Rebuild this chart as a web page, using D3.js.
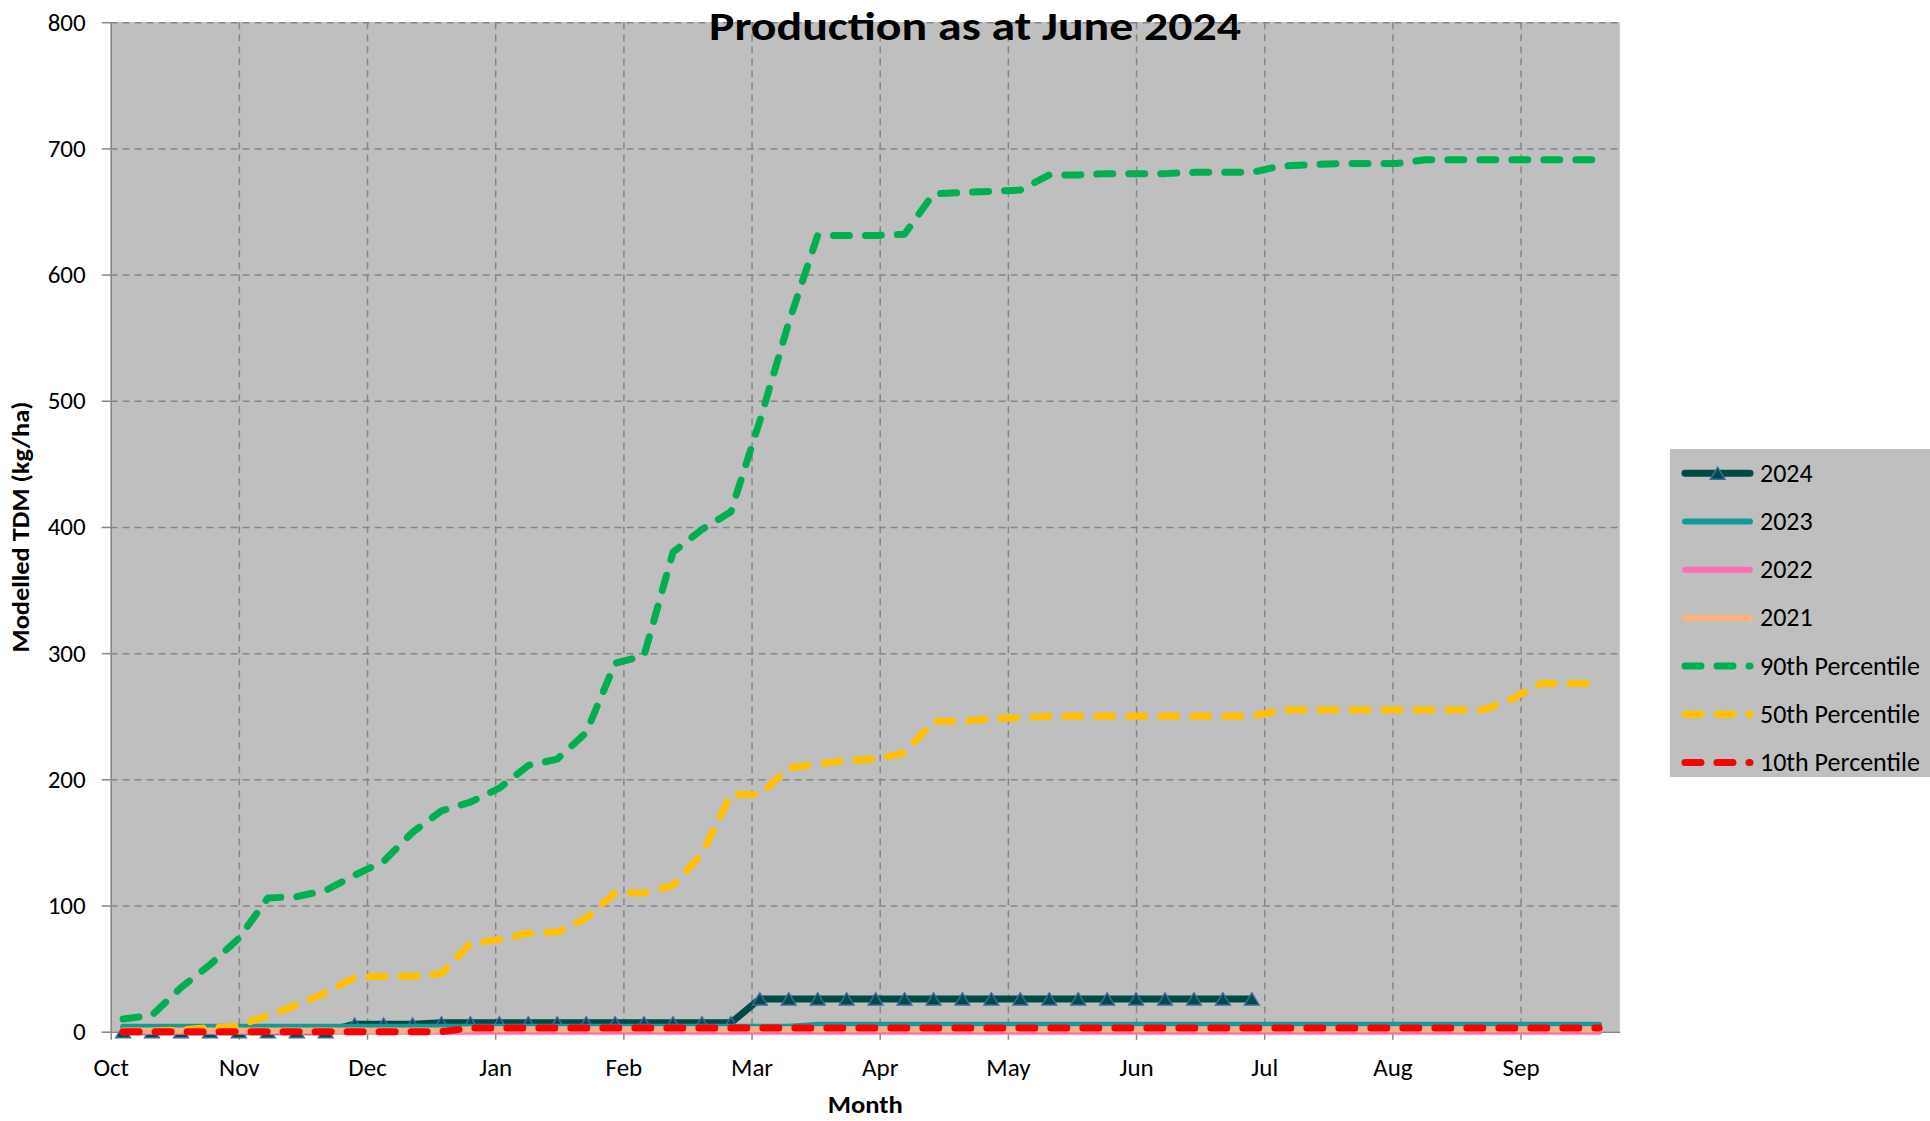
<!DOCTYPE html>
<html>
<head>
<meta charset="utf-8">
<script src="https://cdn.jsdelivr.net/npm/d3@7"></script>
<style>
  body { margin: 0; background: #fff; }
  svg { display: block; font-family: 'Carlito', 'Open Sans', sans-serif; }
</style>
</head>
<body>
<div class="vis-production"></div>
<script>
// month labels on the x axis (one gridline every 31 days from 1 Oct)
const monthLabels = ['Oct', 'Nov', 'Dec', 'Jan', 'Feb', 'Mar', 'Apr', 'May', 'Jun', 'Jul', 'Aug', 'Sep'];
const yTicks = [0, 100, 200, 300, 400, 500, 600, 700, 800];

// weekly modelled TDM (kg/ha), 52 weeks from early October
const p90 = [10, 13, 35, 53, 74, 106, 107, 112, 124, 135, 158, 175, 182, 193, 211, 216, 237, 292, 298, 380,
  398, 412, 484, 562, 631, 631, 631, 632, 664, 665, 666, 667, 679, 679, 680, 680, 680, 681, 681, 681,
  686, 687, 688, 688, 688, 691, 691, 691, 691, 691, 691, 691];
const p50 = [0, 0.5, 1.5, 3, 4.5, 13, 21, 31, 43, 44, 44, 46, 70, 73, 78, 79, 90, 110, 110, 116,
  141, 188, 188, 209, 212, 215, 216, 221, 246, 246, 248, 249, 250, 250, 250, 250, 250, 250, 250, 250,
  255, 255, 255, 255, 255, 255, 255, 255, 264, 276, 276, 276];
const p10 = [0, 0, 0, 0, 0, 0, 0, 0, 0, 0, 0, 0, 3, 3, 3, 3, 3, 3, 3, 3,
  3, 3, 3, 3, 3, 3, 3, 3, 3, 3, 3, 3, 3, 3, 3, 3, 3, 3, 3, 3,
  3, 3, 3, 3, 3, 3, 3, 3, 3, 3, 3, 3];
const y2024 = [0, 0, 0, 0, 0, 0, 0, 0, 6, 6, 6, 7, 7, 7, 7, 7, 7, 7, 7, 7,
  7, 7, 26, 26, 26, 26, 26, 26, 26, 26, 26, 26, 26, 26, 26, 26, 26, 26, 26, 26];
const y2023 = [4, 4, 4, 4, 4, 4, 4, 4, 4, 4, 4, 4, 4, 4, 4, 4, 4, 4, 4, 4,
  4, 4, 4, 4, 5.5, 5.5, 5.5, 5.5, 5.5, 5.5, 5.5, 5.5, 5.5, 5.5, 5.5, 5.5, 5.5, 5.5, 5.5, 5.5,
  5.5, 5.5, 5.5, 5.5, 5.5, 5.5, 5.5, 5.5, 5.5, 5.5, 5.5, 5.5];
const y2022 = [0, 0, 0, 0, 0, 0, 0, 0, 0, 0, 0, 0, 0, 0, 0, 0, 0, 0, 0, 0,
  0, 0, 0, 0, 0, 0, 0, 0, 0, 0, 0, 0, 0, 0, 0, 0, 0, 0, 0, 0,
  0, 0, 0, 0, 0, 0, 0, 0, 0, 0, 0, 0];
const y2021 = [1, 1, 1, 1, 1, 1, 1, 1, 1, 1, 1, 1, 2, 2, 2, 2, 2, 2, 2, 2,
  2, 2, 2, 2, 2, 2, 2, 2, 2, 2, 2, 2, 2, 2, 2, 2, 2, 2, 2, 2,
  2, 2, 2, 2, 2, 2, 2, 2, 2, 2, 2, 2];

const series = [
  { name: '2024', values: y2024, color: '#004a46', width: 7, marker: true },
  { name: '2023', values: y2023, color: '#139a9a', width: 6 },
  { name: '2022', values: y2022, color: '#ff6eb4', width: 6 },
  { name: '2021', values: y2021, color: '#ffb27c', width: 6 },
  { name: '90th Percentile', values: p90, color: '#00b050', width: 7, dash: '16,16' },
  { name: '50th Percentile', values: p50, color: '#ffc000', width: 7, dash: '16,16' },
  { name: '10th Percentile', values: p10, color: '#ff0000', width: 7, dash: '16,16' }
];

const draw = () => {
  const totalW = 1930;
  const totalH = 1121;
  const margin = { top: 22.2, right: 310.2, bottom: 89.3, left: 110.7 };
  const width = totalW - margin.left - margin.right;
  const height = totalH - margin.top - margin.bottom;
  const gridColor = '#868686';
  const font = "'Carlito', 'Open Sans', sans-serif";

  const start = new Date(2023, 9, 1);
  const firstWeek = d3.timeDay.offset(start, 3);
  const weeks = d3.range(p90.length).map((i) => d3.timeDay.offset(firstWeek, 7 * i));
  const monthTicks = monthLabels.map((m, k) => d3.timeDay.offset(start, 31 * k));

  const root = d3.select('.vis-production')
    .append('svg')
    .attr('width', totalW)
    .attr('height', totalH);

  const svg = root.append('g')
    .attr('transform', `translate(${margin.left},${margin.top})`);

  const x = d3.scaleTime()
    .domain([start, d3.timeDay.offset(start, 365)])
    .range([0, width]);
  const y = d3.scaleLinear().domain([0, 800]).range([height, 0]);

  // plot background
  svg.append('rect')
    .attr('width', width)
    .attr('height', height)
    .attr('fill', '#bfbfbf');

  // dashed gridlines
  svg.append('g')
    .call(d3.axisLeft(y).tickValues(yTicks.slice(1)).tickSize(-width).tickFormat(''))
    .call((g) => g.select('.domain').remove())
    .selectAll('line')
    .attr('stroke', gridColor)
    .attr('stroke-width', 1.5)
    .attr('stroke-dasharray', '7,5');
  svg.append('g')
    .call(d3.axisTop(x).tickValues(monthTicks.slice(1)).tickSize(-height).tickFormat(''))
    .call((g) => g.select('.domain').remove())
    .selectAll('line')
    .attr('stroke', gridColor)
    .attr('stroke-width', 1.5)
    .attr('stroke-dasharray', '7,5');

  // axes
  const yAxis = svg.append('g')
    .call(d3.axisLeft(y).tickValues(yTicks).tickSize(9).tickSizeOuter(0).tickPadding(16));
  const xAxis = svg.append('g')
    .attr('transform', `translate(0,${height})`)
    .call(d3.axisBottom(x).tickValues(monthTicks).tickSize(8).tickSizeOuter(0)
      .tickPadding(19).tickFormat((d, i) => monthLabels[i]));
  [yAxis, xAxis].forEach((a) => {
    a.select('.domain').attr('stroke', gridColor).attr('stroke-width', 1.5);
    a.selectAll('line').attr('stroke', gridColor).attr('stroke-width', 1.5);
    a.selectAll('text').attr('font-family', font)
      .attr('font-size', 25).attr('fill', '#000');
  });

  // series lines, first drawn at the bottom
  const line = d3.line()
    .defined((v) => v != null)
    .x((v, i) => x(weeks[i]))
    .y((v) => y(v));
  const tri = 'M0,-6L7.3,6L-7.3,6Z';

  series.forEach((s) => {
    svg.append('path')
      .datum(s.values)
      .attr('fill', 'none')
      .attr('stroke', s.color)
      .attr('stroke-width', s.width)
      .attr('stroke-linejoin', 'round')
      .attr('stroke-linecap', 'round')
      .attr('stroke-dasharray', s.dash || null)
      .attr('d', line);
    if (s.marker) {
      svg.selectAll(null)
        .data(s.values)
        .enter()
        .append('path')
        .attr('d', tri)
        .attr('transform', (v, i) => `translate(${x(weeks[i])},${y(v)})`)
        .attr('fill', s.color)
        .attr('stroke', '#3c6aa0')
        .attr('stroke-width', 1.5);
    }
  });

  // titles
  root.append('text')
    .attr('x', 975)
    .attr('y', 39.5)
    .attr('text-anchor', 'middle')
    .attr('font-size', 41)
    .attr('font-weight', 'bold')
    .attr('textLength', 532)
    .attr('lengthAdjust', 'spacingAndGlyphs')
    .text('Production as at June 2024');
  root.append('text')
    .attr('x', margin.left + width / 2)
    .attr('y', 1113)
    .attr('text-anchor', 'middle')
    .attr('font-size', 25)
    .attr('font-weight', 'bold')
    .attr('textLength', 75)
    .attr('lengthAdjust', 'spacingAndGlyphs')
    .text('Month');
  root.append('text')
    .attr('transform', `translate(29,${margin.top + height / 2}) rotate(-90)`)
    .attr('text-anchor', 'middle')
    .attr('font-size', 25)
    .attr('font-weight', 'bold')
    .attr('textLength', 251)
    .attr('lengthAdjust', 'spacingAndGlyphs')
    .text('Modelled TDM (kg/ha)');

  // legend
  const legend = root.append('g').attr('transform', 'translate(1670,449)');
  legend.append('rect')
    .attr('width', 260)
    .attr('height', 328)
    .attr('fill', '#bfbfbf');
  const rows = legend.selectAll('.row')
    .data(series)
    .enter()
    .append('g')
    .attr('class', 'row')
    .attr('transform', (d, i) => `translate(0,${24.3 + i * 48.2})`);
  rows.append('line')
    .attr('x1', 15)
    .attr('x2', 80)
    .attr('stroke', (d) => d.color)
    .attr('stroke-width', (d) => d.width)
    .attr('stroke-linecap', 'round')
    .attr('stroke-dasharray', (d) => d.dash || null);
  rows.filter((d) => d.marker)
    .append('path')
    .attr('d', tri)
    .attr('transform', 'translate(47.7,0)')
    .attr('fill', (d) => d.color)
    .attr('stroke', '#3c6aa0')
    .attr('stroke-width', 1.5);
  rows.append('text')
    .attr('x', 90)
    .attr('y', 8.4)
    .attr('font-size', 26)
    .attr('fill', '#000')
    .text((d) => d.name);
};

draw();
</script>
</body>
</html>
